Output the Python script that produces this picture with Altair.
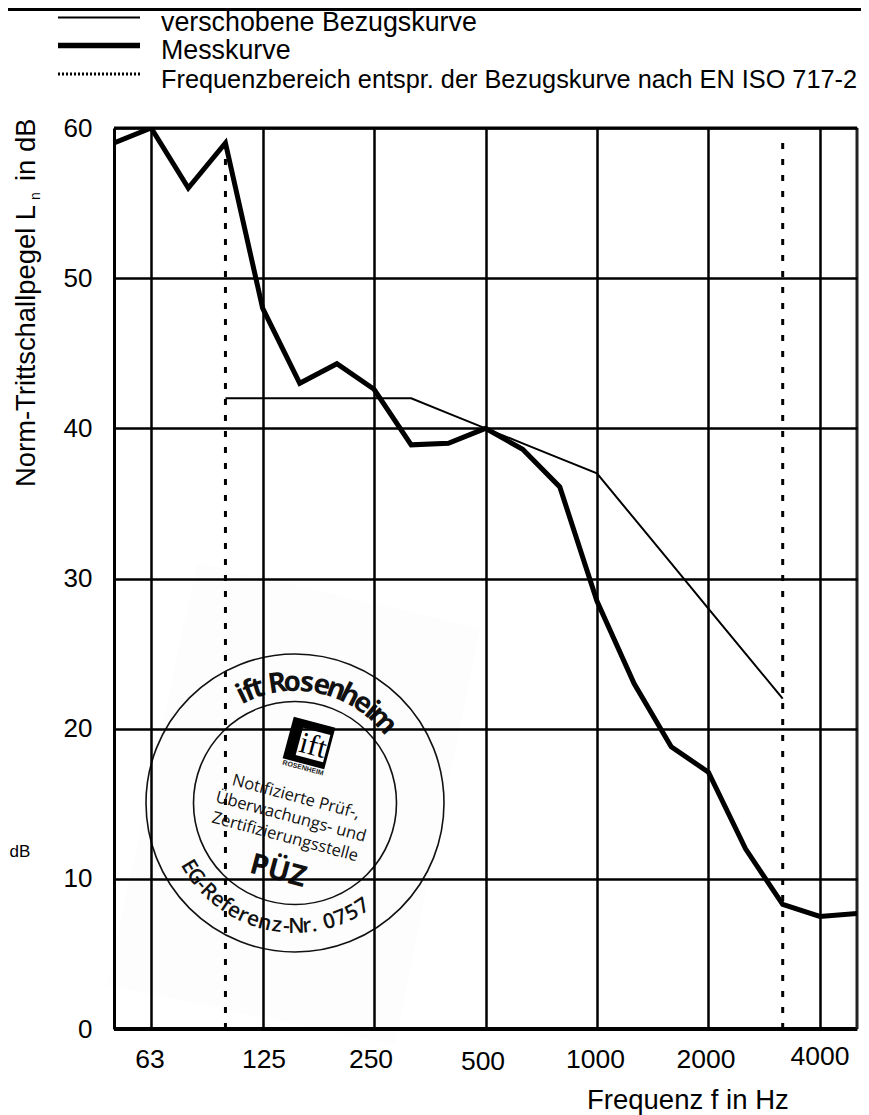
import altair as alt
import pandas as pd
import math

# ---- chart values ----
band_index = list(range(21))
measured = [59, 60, 56, 59, 48, 43, 44.3, 42.6, 38.9, 39, 40, 38.6, 36.1, 28.5, 23, 18.8, 17.1, 12, 8.3, 7.5, 7.7]
ref_index = list(range(3, 19))
reference = [42, 42, 42, 42, 42, 42, 41, 40, 39, 38, 37, 34, 31, 28, 25, 22]
octave_index = [1, 4, 7, 10, 13, 16, 19]
octave_labels = ["63", "125", "250", "500", "1000", "2000", "4000"]
y_ticks = [0, 10, 20, 30, 40, 50, 60]
range_limits = [3, 18]
legend_labels = ["verschobene Bezugskurve", "Messkurve", "Frequenzbereich entspr. der Bezugskurve nach EN ISO 717-2"]

# ---- layout ----
L, T, W, H = 114, 128, 743, 901
xs = alt.Scale(domain=[0, 20], nice=False, zero=False)
ys = alt.Scale(domain=[0, 60], nice=False, zero=False)
FONT = "Liberation Sans"
STAMP = "Open Sans"
INK = "#111111"


def dx(px):
    return (px - L) / W * 20


def dy(py):
    return (T + H - py) / H * 60


X = alt.X("x:Q", scale=xs, title=None)
Y = alt.Y("y:Q", scale=ys, title=None)


def texts(rows, **mk):
    df = pd.DataFrame([{"t": t, "x": dx(a), "y": dy(b), "a": ang % 360} for t, a, b, ang in rows])
    return alt.Chart(df).mark_text(**mk).encode(x=X, y=Y, text="t:N", angle=alt.Angle("a:Q", scale=None))


def arc_text(s, cx, cy, r, start, end, bottom=False):
    narrow = {"i": .5, "f": .6, "t": .65, "l": .5, "-": .6, ".": .5, " ": .5, "r": .7, "m": 1.5}
    w = [narrow.get(c, 1.0) for c in s]
    tot = sum(w)
    rows, acc = [], 0
    for c, wi in zip(s, w):
        th = start + (end - start) * (acc + wi / 2) / tot
        acc += wi
        rad = math.radians(th)
        if bottom:
            rows.append((c, cx + r * math.sin(rad), cy + r * math.cos(rad), -th))
        else:
            rows.append((c, cx + r * math.sin(rad), cy - r * math.cos(rad), th))
    return rows


# ---- base with real axes ----
base_df = pd.DataFrame({"x": band_index, "y": measured})
axes = alt.Chart(base_df).mark_line(opacity=0).encode(
    x=alt.X("x:Q", scale=xs, title=None, axis=alt.Axis(
        values=octave_index, grid=True, gridColor="black", gridWidth=2.5, domain=False, ticks=False,
        labels=False, zindex=1)),
    y=alt.Y("y:Q", scale=ys, title=None, axis=alt.Axis(
        values=y_ticks, grid=True, gridColor="black", gridWidth=2.5, domainColor="black", domainWidth=3, ticks=False,
        labelFont=FONT, labelFontSize=26, labelColor="black", labelPadding=22, labelFlush=False, zindex=1)),
)

# stamp paper
cx0, cy0, half = 295, 800, 250
poly = [(197, 563), (480, 628), (395, 1045), (107, 985)]
paper_path = "M" + "L".join(f"{(a-cx0)/half:.3f},{(b-cy0)/half:.3f}" for a, b in poly) + "Z"
paper = alt.Chart(pd.DataFrame({"x": [dx(cx0)], "y": [dy(cy0)]})).mark_point(
    shape=paper_path, filled=True, fill="#fdfdfd", opacity=1, size=(2 * half) ** 2, strokeWidth=0
).encode(x=X, y=Y)

# frame lines
frame = alt.Chart(pd.DataFrame({"y": [0, 60], "x": [0, 0], "x2": [20, 20], "w": [4, 3]})).mark_rule(color="black").encode(
    x=X, x2="x2:Q", y=Y, strokeWidth=alt.StrokeWidth("w:Q", scale=None))
right_edge = alt.Chart(pd.DataFrame({"x": [20], "y": [0], "y2": [60]})).mark_rule(color="#222222", strokeWidth=3).encode(x=X, y=Y, y2="y2:Q")

# dashed limits
lim_df = pd.DataFrame({"x": range_limits, "y": [0, 0], "y2": [59, 59.4]})
limits = alt.Chart(lim_df).mark_rule(color="black", strokeWidth=3, strokeDash=[6, 10]).encode(x=X, y=Y, y2="y2:Q")

ref_line = alt.Chart(pd.DataFrame({"x": ref_index, "y": reference})).mark_line(color="black", strokeWidth=2).encode(x=X, y=Y)
meas_line = alt.Chart(base_df).mark_line(color="black", strokeWidth=5, strokeJoin="miter", clip=True).encode(x=X, y=Y)

# x tick labels: individually placed in the original
label_px = [150, 264, 371, 483, 595.5, 706, 820]
label_base = [1068, 1068, 1068, 1070, 1068, 1068, 1065]
x_labels = texts([(s, a, b, 0) for s, a, b in zip(octave_labels, label_px, label_base)],
                 font=FONT, fontSize=26.5, color="black", baseline="alphabetic")

# titles
titles = texts([("Norm-Trittschallpegel L", 35, 487, -90), ("in dB", 35, 181, -90)],
               font=FONT, fontSize=27.4, color="black", align="left", baseline="alphabetic")
sub_n = texts([("n", 40, 200, -90)], font=FONT, fontSize=14, color="black", align="left", baseline="alphabetic")
x_title = texts([("Frequenz f in Hz", 587, 1109, 0)], font=FONT, fontSize=27.5, color="black", align="left", baseline="alphabetic")
db_side = texts([("dB", 20, 852, 0)], font=FONT, fontSize=17, color="black")

# legend
leg_df = pd.DataFrame({"x": [dx(58)] * 3, "x2": [dx(140)] * 3, "y": [dy(17.5), dy(45.5), dy(74)],
                       "w": [2, 5.5, 3], "k": ["a", "b", "c"]})
leg_a = alt.Chart(leg_df[leg_df.k != "c"]).mark_rule(color="black").encode(x=X, x2="x2:Q", y=Y, strokeWidth=alt.StrokeWidth("w:Q", scale=None))
leg_c = alt.Chart(leg_df[leg_df.k == "c"]).mark_rule(color="black", strokeWidth=3, strokeDash=[2, 2]).encode(x=X, x2="x2:Q", y=Y)
leg_text = texts([(legend_labels[0], 161, 31, 0), (legend_labels[1], 161, 59, 0)],
                 font=FONT, fontSize=26.8, color="black", align="left", baseline="alphabetic")
leg_text3 = texts([(legend_labels[2], 161, 88, 0)], font=FONT, fontSize=25.3, color="black", align="left", baseline="alphabetic")
# top bar
top_bar = alt.Chart(pd.DataFrame({"x": [dx(8)], "x2": [dx(861)], "y": [dy(9.5)]})).mark_rule(color="black", strokeWidth=3).encode(x=X, x2="x2:Q", y=Y)

# stamp
scx, scy = 295, 803
ring_df = pd.DataFrame({"x": [dx(scx)] * 2, "y": [dy(scy)] * 2, "s": [298 ** 2, 203 ** 2]})
rings = alt.Chart(ring_df).mark_point(shape="circle", filled=False, stroke=INK, strokeWidth=1.6, opacity=1).encode(
    x=X, y=Y, size=alt.Size("s:Q", scale=None))
arc1 = texts(arc_text("ift Rosenheim", scx, scy, 120, -28, 52), font=STAMP, fontSize=28, fontWeight="bold", color=INK, baseline="middle")
arc2 = texts(arc_text("EG-Referenz-Nr. 0757", scx, scy, 124, -62, 36, bottom=True), font=STAMP, fontSize=21, fontWeight=600, color=INK, baseline="middle")
inner = texts([("Notifizierte Prüf-,", 296, 797, 15), ("Überwachungs- und", 291, 817, 15), ("Zertifizierungsstelle", 285, 837, 15)],
              font=STAMP, fontSize=16.5, fontWeight=500, color=INK)
puez = texts([("PÜZ", 278, 871, 15)], font=STAMP, fontSize=29, fontWeight="bold", color=INK)
logo_black = alt.Chart(pd.DataFrame({"x": [dx(309)], "y": [dy(743)]})).mark_point(shape="square", filled=True, fill="black", opacity=1, size=1850, angle=15, strokeWidth=0).encode(x=X, y=Y)
logo_white = alt.Chart(pd.DataFrame({"x": [dx(313)], "y": [dy(745)]})).mark_point(shape="square", filled=True, fill="white", opacity=1, size=800, angle=15, strokeWidth=0).encode(x=X, y=Y)
logo_txt = texts([("ift", 313, 746, 15)], font="Liberation Serif", fontSize=30, color="black")
logo_sub = texts([("ROSENHEIM", 303, 768, 15)], font=FONT, fontSize=7, fontWeight="bold", color="#222222")

chart = alt.layer(
    paper, axes, frame, right_edge, limits, ref_line, meas_line, x_labels, titles, sub_n, x_title, db_side,
    top_bar, leg_a, leg_c, leg_text, leg_text3, rings, arc1, arc2, inner, puez, logo_black, logo_white, logo_txt, logo_sub
).properties(
    width=W, height=H,
    autosize=alt.AutoSizeParams(type="none"),
    padding={"left": L - 8, "top": T - 8, "right": 4, "bottom": 86},
    background="white",
).configure_view(stroke=None)

chart.save("out.html", embed_options={"renderer": "svg", "actions": False})
